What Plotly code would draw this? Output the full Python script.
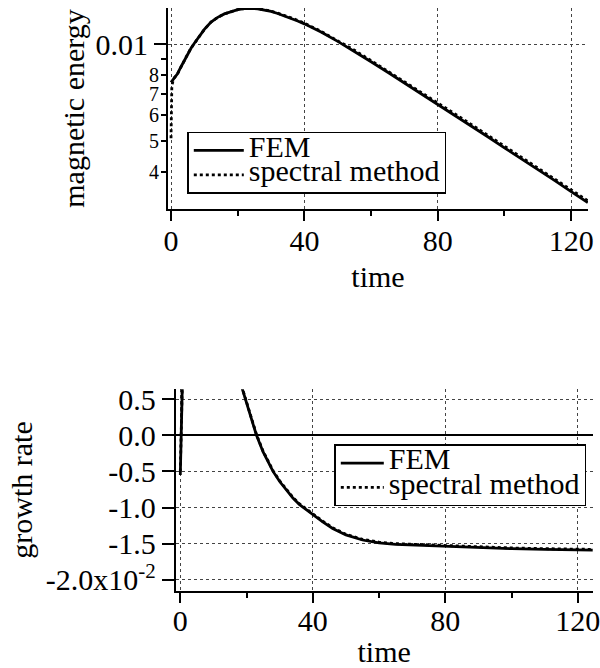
import plotly.graph_objects as go

W, H = 600, 668
FONT = "Liberation Serif, Times New Roman, serif"

# ---------------- data ----------------
t_fem = [0, 1, 2, 3, 4, 5, 6, 7, 8, 9, 10, 12, 14, 16, 18, 20, 22, 24, 26, 28,
         30, 32, 34, 36, 38, 40, 45, 50, 55, 60, 65, 70, 75, 80, 85, 90, 95,
         100, 105, 110, 115, 120, 125]
energy_fem = [0.0076, 0.00785, 0.0081, 0.0085, 0.0089, 0.0093, 0.0097, 0.01005,
              0.0104, 0.01075, 0.0111, 0.0117, 0.0121, 0.0124, 0.01262, 0.01278,
              0.01288, 0.01291, 0.01286, 0.01276, 0.01262, 0.01244, 0.01224,
              0.01202, 0.01179, 0.01155, 0.01089, 0.01019, 0.00949, 0.00881,
              0.00817, 0.00757, 0.00702, 0.00650, 0.00602, 0.00557, 0.00515,
              0.00476, 0.00441, 0.00408, 0.00377, 0.00348, 0.00322]

t_spec = [0, 0.25, 0.5, 1, 2, 3, 4, 5, 6, 7, 8, 9, 10, 12, 14, 16, 18, 20, 22,
          24, 26, 28, 30, 32, 34, 36, 38, 40, 45, 50, 55, 60, 65, 70, 75, 80,
          85, 90, 95, 100, 105, 110, 115, 120, 125]
energy_spec = [0.0051, 0.0074, 0.0076, 0.00786, 0.0081, 0.0085, 0.0089, 0.0093,
               0.0097, 0.01005, 0.0104, 0.01075, 0.0111, 0.0117, 0.0121, 0.0124,
               0.01262, 0.01279, 0.01289, 0.01292, 0.01288, 0.01278, 0.01265,
               0.01247, 0.01228, 0.01206, 0.01184, 0.01160, 0.01095, 0.01026,
               0.00956, 0.00888, 0.00824, 0.00764, 0.00709, 0.00657, 0.00608,
               0.00563, 0.00521, 0.00482, 0.00446, 0.00413, 0.00382, 0.00353,
               0.00326]

# growth rate in units of 1e-2
t_growth_fem = [0, 0.3, 2, 5, 8, 10, 12, 14, 16, 18, 20, 22, 23, 25, 28, 30, 32,
                34, 36, 38, 40, 43, 46, 50, 55, 60, 65, 70, 80, 90, 100, 110,
                120, 125]
growth_fem = [-0.55, 3.0, 3.5, 4.0, 3.4, 2.7, 2.0, 1.5, 1.1, 0.75, 0.45, 0.15,
              0.0, -0.23, -0.50, -0.64, -0.76, -0.87, -0.96, -1.03, -1.10,
              -1.20, -1.29, -1.38, -1.45, -1.49, -1.51, -1.52, -1.54, -1.56,
              -1.57, -1.58, -1.59, -1.59]
t_growth_spec = [0, 0.25, 2, 5, 8, 10, 12, 14, 16, 18, 20, 22, 23, 25, 28, 30,
                 32, 34, 36, 38, 40, 43, 46, 50, 55, 60, 65, 70, 80, 90, 100,
                 110, 120, 125]
growth_spec = [-0.5, 3.2, 3.5, 4.0, 3.4, 2.7, 2.0, 1.5, 1.1, 0.76, 0.46, 0.16,
               0.01, -0.22, -0.49, -0.63, -0.75, -0.86, -0.95, -1.02, -1.09,
               -1.19, -1.28, -1.37, -1.44, -1.48, -1.50, -1.51, -1.53, -1.55,
               -1.56, -1.57, -1.58, -1.58]

x_tickvals = [0, 40, 80, 120]
x_ticktext = ["0", "40", "80", "120"]
x_minorvals = [20, 60, 100]
e_major_vals = [0.01]
e_major_text = ["0.01"]
e_minor_vals = [0.004, 0.005, 0.006, 0.007, 0.008, 0.009]
e_minor_text = ["4", "5", "6", "7", "8", " "]
g_tickvals = [0.5, 0.0, -0.5, -1.0, -1.5, -2.0]
g_ticktext = ["0.5", "0.0", "-0.5", "-1.0", "-1.5", "-2.0x10<sup>-2</sup>"]

LEG_SIZE = 30


def leg_name(s):
    return '<span style="font-size:%dpx">%s</span>' % (LEG_SIZE, s)


LW = 2.8
fig = go.Figure()
fig.add_trace(go.Scatter(x=t_fem, y=energy_fem, mode="lines", name=leg_name("FEM"),
                         line=dict(color="black", width=LW), xaxis="x", yaxis="y",
                         legend="legend"))
fig.add_trace(go.Scatter(x=t_spec, y=energy_spec, mode="lines",
                         name=leg_name("spectral method"),
                         line=dict(color="black", width=LW, dash="dot"),
                         xaxis="x", yaxis="y", legend="legend"))
fig.add_trace(go.Scatter(x=[], y=[], mode="lines", showlegend=False,
                         xaxis="x", yaxis="y3", hoverinfo="skip"))
fig.add_trace(go.Scatter(x=t_growth_fem, y=growth_fem, mode="lines",
                         name=leg_name("FEM"),
                         line=dict(color="black", width=LW), xaxis="x2", yaxis="y2",
                         legend="legend2"))
fig.add_trace(go.Scatter(x=t_growth_spec, y=growth_spec, mode="lines",
                         name=leg_name("spectral method"),
                         line=dict(color="black", width=LW, dash="dot"),
                         xaxis="x2", yaxis="y2", legend="legend2"))

tickfont = dict(family=FONT, size=30, color="black")
titlefont = dict(family=FONT, size=30, color="black")
common = dict(showline=True, linecolor="black", linewidth=2, ticks="outside",
              tickcolor="black", tickwidth=2, zeroline=False, showgrid=True,
              gridcolor="#444", griddash="dot", gridwidth=1, tickfont=tickfont,
              automargin=False, tickmode="array", ticklabeloverflow="allow")

fig.update_layout(
    width=W, height=H,
    margin=dict(l=0, r=0, t=0, b=0),
    paper_bgcolor="white", plot_bgcolor="white",
    font=dict(family=FONT, color="black"),
    xaxis=dict(common, domain=[168 / W, 588 / W], range=[-0.9, 125.05], anchor="y",
               tickvals=x_tickvals, ticktext=x_ticktext, ticklen=10,
               ticklabelstandoff=-6,
               minor=dict(tickmode="array", tickvals=x_minorvals, ticklen=5,
                          tickwidth=2, tickcolor="black", ticks="outside",
                          showgrid=False),
               title=dict(text="time", font=titlefont, standoff=10)),
    yaxis=dict(common, type="log", domain=[1 - 209 / H, 1 - 8 / H],
               range=[-2.5124, -1.8882], anchor="x",
               tickvals=e_major_vals, ticktext=e_major_text, ticklen=12,
               title=dict(text="magnetic energy", font=titlefont, standoff=2)),
    yaxis3=dict(type="log", overlaying="y", anchor="x", side="left",
                range=[-2.5124, -1.8882], tickmode="array",
                tickvals=e_minor_vals, ticktext=e_minor_text, ticks="outside",
                ticklen=6, tickwidth=2, tickcolor="black", showgrid=False,
                showline=False, zeroline=False, ticklabelstandoff=-2,
                tickfont=dict(family=FONT, size=20, color="black")),
    xaxis2=dict(common, domain=[175.7 / W, 592.7 / W], range=[-1.39, 124.5],
                anchor="y2", tickvals=x_tickvals, ticktext=x_ticktext, ticklen=10,
                ticklabelstandoff=-8,
                minor=dict(tickmode="array", tickvals=x_minorvals, ticklen=5,
                           tickwidth=2, tickcolor="black", ticks="outside",
                           showgrid=False),
                title=dict(text="time", font=titlefont, standoff=10)),
    yaxis2=dict(common, domain=[1 - 590.7 / H, 1 - 389.3 / H], range=[-2.152, 0.637],
                anchor="x2", tickvals=g_tickvals, ticktext=g_ticktext, ticklen=12,
                zeroline=True, zerolinecolor="black", zerolinewidth=1.5,
                title=dict(text="growth rate", font=titlefont, standoff=4)),
    legend=dict(x=187.3 / W, y=1 - 131.7 / H, xanchor="left", yanchor="top",
                bgcolor="white", bordercolor="black", borderwidth=1.5,
                font=dict(family=FONT, size=16.5, color="black"),
                itemwidth=50, tracegroupgap=0),
    legend2=dict(x=334.3 / W, y=1 - 444.3 / H, xanchor="left", yanchor="top",
                 bgcolor="white", bordercolor="black", borderwidth=1.5,
                 font=dict(family=FONT, size=16.5, color="black"),
                 itemwidth=43, tracegroupgap=0),
    showlegend=True,
)

fig.write_html("out.html",
               config={"displayModeBar": False},
               post_script="document.body.style.margin='0';"
                           "document.body.style.overflow='hidden';")
